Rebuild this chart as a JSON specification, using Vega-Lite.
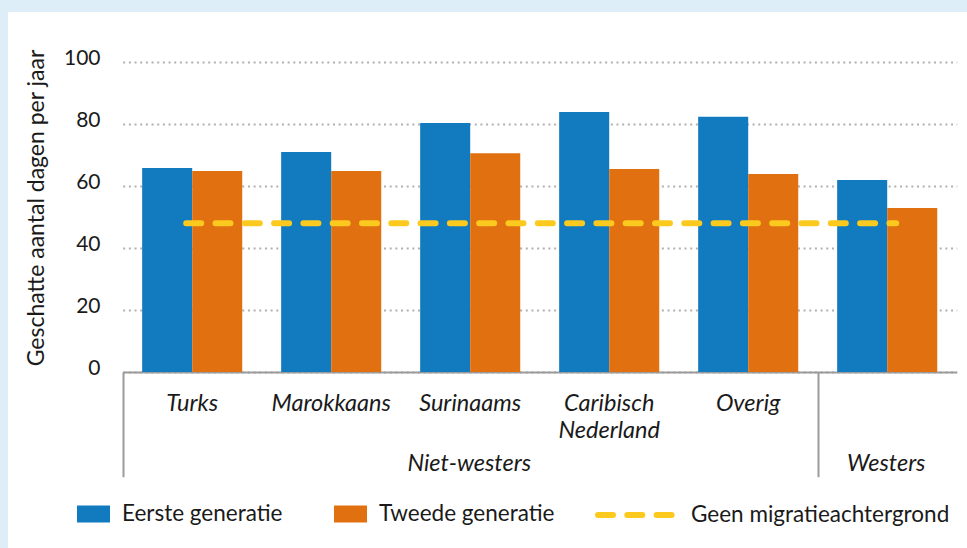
{
  "$schema": "https://vega.github.io/schema/vega-lite/v6.json",
  "width": 959,
  "height": 536,
  "autosize": {"type": "none"},
  "padding": {"left": 8, "top": 12, "right": 0, "bottom": 0},
  "background": "#ddeef8",
  "config": {
    "font": "Lato",
    "view": {"fill": "#ffffff", "stroke": null},
    "axis": {"labelColor": "#1a1a1a", "titleColor": "#1a1a1a"},
    "legend": {"labelColor": "#1a1a1a"}
  },
  "datasets": {
    "bars": [
      {"origin": "Turks", "generation": "Eerste generatie", "value": 65.8},
      {"origin": "Turks", "generation": "Tweede generatie", "value": 64.8},
      {"origin": "Marokkaans", "generation": "Eerste generatie", "value": 71.0},
      {"origin": "Marokkaans", "generation": "Tweede generatie", "value": 64.8},
      {"origin": "Surinaams", "generation": "Eerste generatie", "value": 80.3},
      {"origin": "Surinaams", "generation": "Tweede generatie", "value": 70.6},
      {"origin": "Caribisch Nederland", "generation": "Eerste generatie", "value": 83.9},
      {"origin": "Caribisch Nederland", "generation": "Tweede generatie", "value": 65.5},
      {"origin": "Overig", "generation": "Eerste generatie", "value": 82.3},
      {"origin": "Overig", "generation": "Tweede generatie", "value": 63.9},
      {"origin": "Westers", "generation": "Eerste generatie", "value": 61.9},
      {"origin": "Westers", "generation": "Tweede generatie", "value": 52.9}
    ],
    "baseline": [
      {"from": "Turks", "to": "Westers", "value": 48, "label": "Geen migratieachtergrond"}
    ]
  },
  "resolve": {"axis": {"x": "independent"}},
  "layer": [
    {
      "data": {"name": "bars"},
      "mark": {"type": "bar"},
      "encoding": {
        "x": {
          "field": "origin",
          "type": "nominal",
          "scale": {
            "domain": ["Turks", "Marokkaans", "Surinaams", "Caribisch Nederland", "Overig", "Westers"],
            "range": [114.7, 948.7],
            "paddingInner": 0.28,
            "paddingOuter": 0.14
          },
          "axis": {
            "orient": "bottom",
            "title": null,
            "offset": -176,
            "domain": true,
            "domainColor": "#9b9b9b",
            "domainWidth": 2,
            "ticks": false,
            "tickSize": 0,
            "grid": false,
            "labelPadding": 38.7,
            "labelBaseline": "alphabetic",
            "labelFontSize": 23.5,
            "labelFontStyle": "italic",
            "labelAngle": 0,
            "labelLineHeight": 27.3,
            "labelOverlap": false,
            "labelBound": false,
            "labelLimit": 300,
            "labelExpr": "datum.value == 'Caribisch Nederland' ? ['Caribisch', 'Nederland'] : datum.value == 'Westers' ? '' : datum.value"
          }
        },
        "xOffset": {
          "field": "generation",
          "type": "nominal",
          "scale": {"paddingInner": 0, "paddingOuter": 0}
        },
        "y": {
          "field": "value",
          "type": "quantitative",
          "scale": {"domain": [0, 100], "range": [360, 50], "nice": false},
          "axis": {
            "title": "Geschatte aantal dagen per jaar",
            "values": [0, 20, 40, 60, 80, 100],
            "offset": -114.7,
            "domain": false,
            "ticks": false,
            "tickSize": 0,
            "labelPadding": 22.7,
            "labelFontSize": 21,
            "labelBaseline": "alphabetic",
            "labelOffset": 2.4,
            "grid": true,
            "gridColor": "#b0b0b0",
            "gridWidth": 2,
            "gridDash": [2, 3.67],
            "titleFontSize": 23,
            "titleFontWeight": "normal",
            "titleAngle": -90,
            "titleX": -79.7,
            "titleY": 195.5,
            "titleAlign": "center",
            "titleBaseline": "alphabetic"
          }
        },
        "fill": {
          "field": "generation",
          "type": "nominal",
          "scale": {"domain": ["Eerste generatie", "Tweede generatie"], "range": ["#127bbf", "#e17010"]},
          "legend": {
            "orient": "none",
            "legendX": 69,
            "legendY": 485.5,
            "direction": "horizontal",
            "columns": 2,
            "title": null,
            "padding": 0,
            "symbolType": "M-1,-0.515H1V0.515H-1Z",
            "symbolSize": 1089,
            "symbolStrokeWidth": 0,
            "labelFontSize": 22.5,
            "labelLimit": 400,
            "labelOffset": 12,
            "columnPadding": 51
          }
        }
      }
    },
    {
      "data": {"name": "baseline"},
      "mark": {"type": "rule", "strokeWidth": 6, "strokeDash": [15, 14.3], "strokeCap": "round"},
      "encoding": {
        "x": {
          "field": "from",
          "type": "nominal",
          "bandPosition": 0.44,
          "axis": {
            "orient": "bottom",
            "title": null,
            "offset": -176,
            "domain": false,
            "ticks": true,
            "tickSize": 104.7,
            "tickWidth": 2,
            "tickColor": "#9b9b9b",
            "tickOpacity": {"condition": {"test": "datum.value === 'Turks' || datum.value === 'Westers'", "value": 1}, "value": 0},
            "bandPosition": 0,
            "tickOffset": -19.46,
            "labelOffset": 18,
            "grid": false,
            "labelPadding": -6.7,
            "labelBaseline": "alphabetic",
            "labelFontSize": 23.5,
            "labelFontStyle": "italic",
            "labelAngle": 0,
            "labelOverlap": false,
            "labelBound": false,
            "labelLimit": 300,
            "labelExpr": "datum.value == 'Surinaams' ? 'Niet-westers' : datum.value == 'Westers' ? 'Westers' : ''"
          }
        },
        "x2": {"field": "to", "bandPosition": 0.59},
        "y": {
          "field": "value",
          "type": "quantitative",
          "axis": {
            "title": "Geschatte aantal dagen per jaar",
            "values": [0, 20, 40, 60, 80, 100],
            "offset": -114.7,
            "domain": false,
            "ticks": false,
            "tickSize": 0,
            "labelPadding": 22.7,
            "labelFontSize": 21,
            "labelBaseline": "alphabetic",
            "labelOffset": 2.4,
            "grid": true,
            "gridColor": "#b0b0b0",
            "gridWidth": 2,
            "gridDash": [2, 3.67],
            "titleFontSize": 23,
            "titleFontWeight": "normal",
            "titleAngle": -90,
            "titleX": -79.7,
            "titleY": 195.5,
            "titleAlign": "center",
            "titleBaseline": "alphabetic"
          }
        },
        "stroke": {
          "field": "label",
          "type": "nominal",
          "scale": {"range": ["#fcca1e"]},
          "legend": {
            "orient": "none",
            "legendX": 587,
            "legendY": 462.5,
            "title": null,
            "padding": 0,
            "symbolType": "stroke",
            "symbolSize": 5625,
            "symbolStrokeWidth": 6,
            "symbolDash": [15, 14.3],
            "labelFontSize": 22.5,
            "labelLimit": 400,
            "labelOffset": 15,
            "encode": {"symbols": {"update": {"strokeCap": {"value": "round"}}}}
          }
        }
      }
    }
  ]
}
